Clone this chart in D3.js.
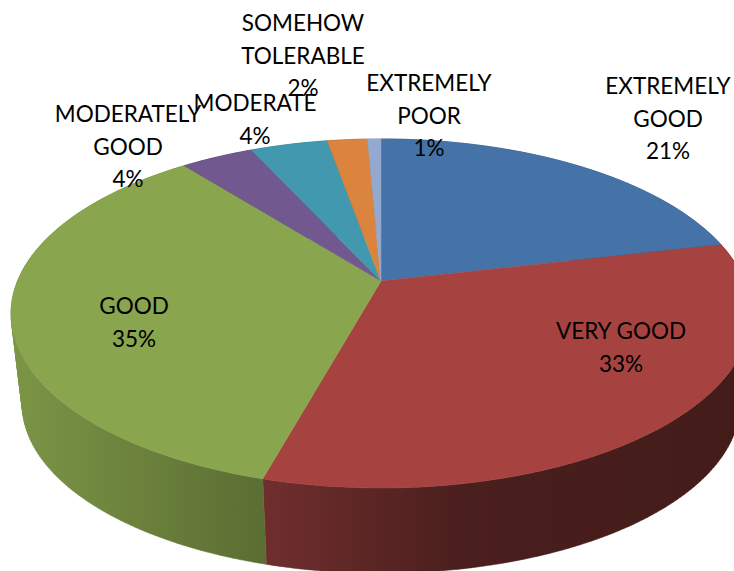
<!DOCTYPE html>
<html>
<head>
<meta charset="utf-8">
<title>3D pie</title>
<script src="https://cdn.jsdelivr.net/npm/d3@7"></script>
<style>
  html, body { margin: 0; padding: 0; background: #fff; }
  svg { display: block; }
  text { font-family: Lato, sans-serif; font-size: 22.5px; fill: #000; text-anchor: middle; }
</style>
</head>
<body>
<div id="chart"></div>
<script>
// values, labels on the chart are the rounded ones
var categories = ["EXTREMELY GOOD", "VERY GOOD", "GOOD", "MODERATELY GOOD", "MODERATE", "SOMEHOW TOLERABLE", "EXTREMELY POOR"];
var values = [21.4, 32.9, 35.05, 3.8, 4.05, 2.1, 0.7];
var labelLines = [["EXTREMELY", "GOOD"], ["VERY GOOD"], ["GOOD"], ["MODERATELY", "GOOD"], ["MODERATE"], ["SOMEHOW", "TOLERABLE"], ["EXTREMELY", "POOR"]];
var colors = ["#4572a7", "#a64341", "#89a54e", "#71588f", "#4198af", "#db843d", "#93a9cf"];

var width = 734, height = 571;

// where each label block sits (x centre, y of first line)
var labelX = [668, 621, 134, 128, 255, 303, 429];
var labelY = [86, 331, 306, 114, 103, 23, 83];
var lineStep = 32.5;

// perspective: the disc tilts away, v is towards the viewer
var persp = 0.186;
function project(cx, cy, rx, ry, angle) {
    var u = Math.sin(angle), v = -Math.cos(angle);
    var s = 1 / (1 - persp * v);
    return [cx + rx * u * s, cy + ry * v * s];
}
var topDisc = [381, 281, 363.5, 168.5];
var baseDisc = [381, 372.5, 352.6, 163.4];

function arcPoints(disc, d) {
    var n = Math.max(2, Math.ceil((d.endAngle - d.startAngle) * 60));
    return d3.range(n + 1).map(function(i) {
        var a = d.startAngle + (d.endAngle - d.startAngle) * i / n;
        return project(disc[0], disc[1], disc[2], disc[3], a);
    });
}

var svg = d3.select("#chart").append("svg")
    .attr("width", width)
    .attr("height", height);

var defs = svg.append("defs");

// side shading runs left to right across the wall
var wallStops = [
    [[11, "#7c9546"], [263, "#5b6e33"]],
    [[263, "#702e2e"], [460, "#4a1f1d"], [734, "#431c1a"]]
];
["wall-green", "wall-red"].forEach(function(id, i) {
    var grad = defs.append("linearGradient")
        .attr("id", id)
        .attr("gradientUnits", "userSpaceOnUse")
        .attr("x1", wallStops[i][0][0]).attr("y1", 0)
        .attr("x2", wallStops[i][wallStops[i].length - 1][0]).attr("y2", 0);
    var x = d3.scaleLinear()
        .domain([wallStops[i][0][0], wallStops[i][wallStops[i].length - 1][0]])
        .range([0, 1]);
    wallStops[i].forEach(function(s) {
        grad.append("stop").attr("offset", x(s[0])).attr("stop-color", s[1]);
    });
});

var pie = d3.pie().sort(null).value(function(d) { return d; });
var slices = pie(values);
var line = d3.line().curve(d3.curveLinearClosed);

function wallFill(i) {
    if (i === 1) return "url(#wall-red)";
    if (i === 2) return "url(#wall-green)";
    return d3.color(colors[i]).darker(1.2);
}

// one quad per arc step, all wound the same way so the silhouette stays filled
function wallPath(d) {
    var a = arcPoints(topDisc, d), b = arcPoints(baseDisc, d);
    return d3.range(a.length - 1).map(function(i) {
        var quad = [a[i], a[i + 1], b[i + 1], b[i]];
        if (d3.polygonArea(quad) < 0) quad.reverse();
        return line(quad);
    }).join("");
}

// walls first, the top disc covers whatever is at the back
svg.append("g").selectAll("path")
    .data(slices)
    .enter()
    .append("path")
    .attr("d", wallPath)
    .attr("fill", function(d, i) { return wallFill(i); })
    .attr("stroke", function(d, i) { return wallFill(i); })
    .attr("stroke-width", 0.5);

svg.append("g").selectAll("path")
    .data(slices)
    .enter()
    .append("path")
    .attr("d", function(d) {
        return line([[topDisc[0], topDisc[1]]].concat(arcPoints(topDisc, d)));
    })
    .attr("fill", function(d, i) { return colors[i]; })
    .attr("stroke", function(d, i) { return colors[i]; })
    .attr("stroke-width", 0.5);

// labels
var labels = svg.append("g").selectAll("text")
    .data(categories)
    .enter()
    .append("text")
    .attr("x", function(d, i) { return labelX[i]; })
    .attr("y", function(d, i) { return labelY[i]; });

labels.each(function(d, i) {
    var el = d3.select(this);
    labelLines[i].concat([Math.round(values[i]) + "%"]).forEach(function(t, j) {
        el.append("tspan")
            .attr("x", labelX[i])
            .attr("y", labelY[i] + j * lineStep)
            .attr("dy", "0.36em")
            .text(t);
    });
});
</script>
</body>
</html>
